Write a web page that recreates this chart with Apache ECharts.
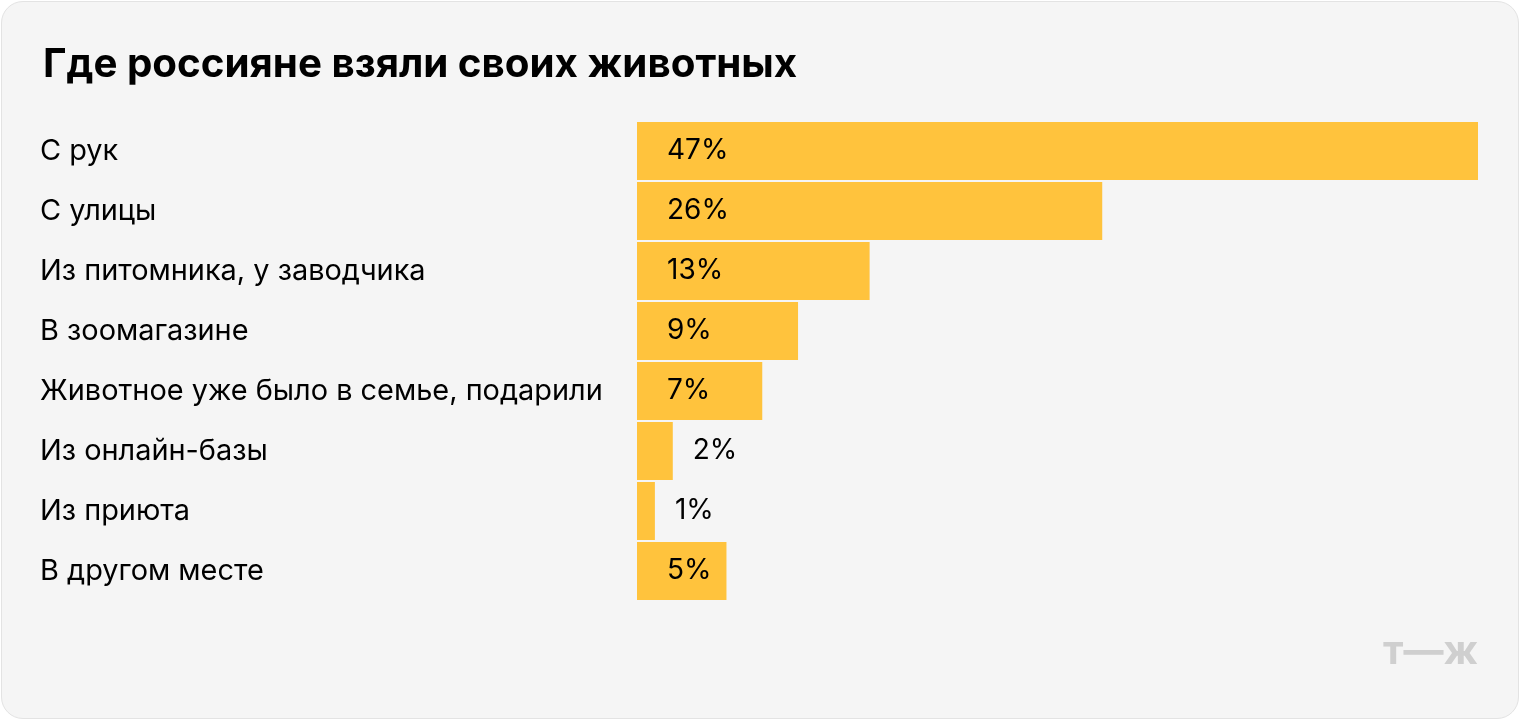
<!DOCTYPE html>
<html><head><meta charset="utf-8">
<script src="https://cdn.jsdelivr.net/npm/echarts@6/dist/echarts.min.js"></script>
<style>
html,body{margin:0;padding:0;background:#fff;}
#card{position:absolute;left:1px;top:1px;width:1516px;height:716px;border:1px solid #e3e3e3;border-radius:22px;background:#f5f5f5;overflow:hidden;}
#c{width:1516px;height:716px;}
</style></head><body>
<div id="card"><div id="c"></div></div>
<script>
const categories = ['С рук','С улицы','Из питомника, у заводчика','В зоомагазине','Животное уже было в семье, подарили','Из онлайн-базы','Из приюта','В другом месте'];
const values = [47,26,13,9,7,2,1,5];
const outsideLabels = [false,false,false,false,false,true,true,false];

const chart = echarts.init(document.getElementById('c'));
const F = 'Inter, Roboto, sans-serif';
chart.setOption({
  animation:false,
  title:{text:'Где россияне взяли своих животных',left:36,top:38,textStyle:{fontFamily:F,fontSize:40.3,fontWeight:'bold',color:'#000'}},
  grid:{left:635,right:40,top:119,height:480},
  xAxis:{type:'value',min:0,max:47,show:false},
  yAxis:{type:'category',data:categories,inverse:true,axisLine:{show:false},axisTick:{show:false},
    axisLabel:{align:'left',margin:597,fontFamily:F,fontSize:28.9,color:'#000'}},
  series:[{type:'bar',barCategoryGap:'3.5%',
    data:values.map((v,i)=>({value:v,label:outsideLabels[i]?{position:'right',distance:20}:{position:'insideLeft',distance:30}})),
    itemStyle:{color:'#ffc33d'},
    label:{show:true,formatter:'{c}%',fontFamily:F,fontSize:28,color:'#000'}}],
  graphic:[{type:'text',right:40,top:630,style:{text:'т—ж',fontFamily:F,fontSize:40,fontWeight:'bold',fill:'#cfcfcf'}}]
});
</script></body></html>
